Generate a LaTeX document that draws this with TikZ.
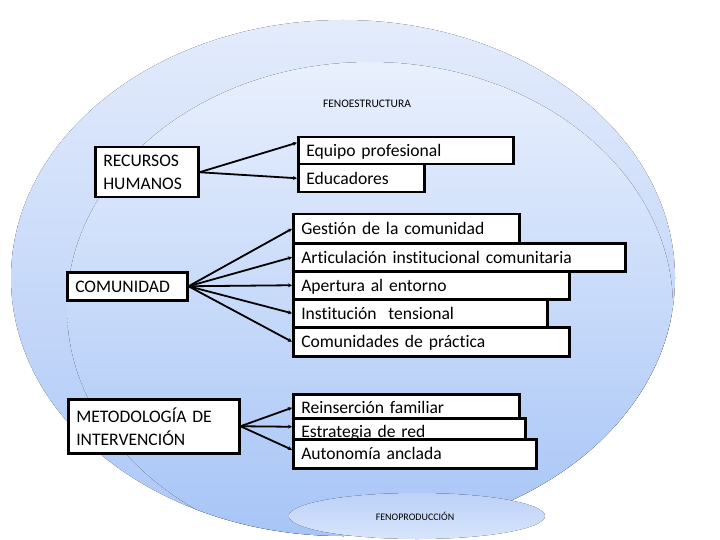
\documentclass[tikz,border=0pt]{standalone}
\usepackage{fontspec}
\setmainfont{Carlito}[WordSpace=0.8, Ligatures=NoCommon]
\usetikzlibrary{arrows.meta}
\definecolor{outerTop}{RGB}{228,236,252}
\definecolor{outerBot}{RGB}{172,199,247}
\definecolor{innerTop}{RGB}{233,240,253}
\definecolor{innerBot}{RGB}{164,195,246}
\definecolor{smallTop}{RGB}{188,209,248}
\definecolor{smallBot}{RGB}{216,229,251}
\tikzset{
  boxbase/.style={draw=black, line width=2.5pt, fill=white, inner xsep=8pt, inner ysep=0pt,
    align=left, anchor=north west, font=\fontsize{17.6}{23}\selectfont},
  box/.style={boxbase, text height=12pt, text depth=0pt},
  conn/.style={line width=1.8pt, -{Stealth[length=4pt,width=4pt]}},
  smalltext/.style={font=\fontsize{#1}{#1}\selectfont, inner sep=0pt}
}
\begin{document}
\begin{tikzpicture}[x=1pt,y=-1pt]
\useasboundingbox (0,0) rectangle (720,540);
\fill[white] (0,0) rectangle (720,540);
% background shapes
\fill[shading=axis, top color=outerTop, bottom color=outerBot] (343,278) ellipse [x radius=332pt, y radius=258pt];
\begin{scope}
\clip (343,278) ellipse [x radius=332pt, y radius=258pt];
\fill[shading=axis, top color=innerTop, bottom color=innerBot] (370,308) ellipse [x radius=303pt, y radius=246pt];
\end{scope}
\fill[shading=axis, top color=smallTop, bottom color=smallBot] (417,516) ellipse [x radius=128pt, y radius=23pt];

\node[smalltext=11.5] (fe) at (367,104) {FENOESTRUCTURA};
\node[smalltext=10] (fp) at (415,516) {FENOPRODUCCIÓN};

% left boxes
\node[boxbase, text width=87pt, minimum height=50pt] (rh) at (94,146) {RECURSOS\\HUMANOS};
\node[box, text width=104pt, minimum height=28pt] (com) at (66,271) {COMUNIDAD};
\node[boxbase, text width=155pt, minimum height=54pt] (met) at (67,398) {METODOLOGÍA DE\\INTERVENCIÓN};

% recursos humanos
\node[box, text width=199pt, minimum height=27pt] (eq) at (297,136) {Equipo profesional};
\node[box, text width=110pt, minimum height=28pt] (ed) at (297,163) {Educadores};

% comunidad
\node[box, text width=210pt, minimum height=29pt] (ge) at (292,213) {Gestión de la comunidad};
\node[box, text width=316pt, minimum height=28pt] (ar) at (292,242) {Articulación institucional comunitaria};
\node[box, text width=260pt, minimum height=28pt] (ap) at (292,270) {Apertura al entorno};
\node[box, text width=238pt, minimum height=28pt] (in) at (292,298) {Institución\ \ tensional};
\node[box, text width=260pt, minimum height=29pt] (cp) at (292,326) {Comunidades de práctica};

% metodologia
\node[box, text width=210pt, minimum height=27pt] (re) at (292,393) {Reinserción familiar};
\node[box, text width=216pt, minimum height=27pt] (es) at (292,417) {Estrategia de red};
\node[box, text width=227pt, minimum height=29pt] (au) at (292,438) {Autonomía anclada};

% connectors
\draw[conn] (rh.east) -- ([yshift=8pt]eq.west);
\draw[conn] (rh.east) -- (ed.west);
\draw[conn] (com.east) -- (ge.west);
\draw[conn] (com.east) -- (ar.west);
\draw[conn] (com.east) -- (ap.west);
\draw[conn] (com.east) -- (in.west);
\draw[conn] (com.east) -- (cp.west);
\draw[conn] (met.east) -- (re.west);
\draw[conn] (met.east) -- ([yshift=5pt]es.west);
\draw[conn] (met.east) -- ([yshift=4pt]au.west);
\end{tikzpicture}
\end{document}
